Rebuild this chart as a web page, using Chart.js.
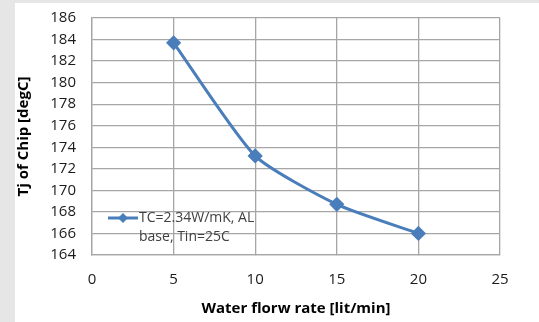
<!DOCTYPE html>
<html>
<head>
<meta charset="utf-8">
<script src="https://cdn.jsdelivr.net/npm/chart.js@4"></script>
<style>
  html, body { margin: 0; padding: 0; background: #e6e6e6; }
  #wrap { position: absolute; left: 15px; top: 3px; width: 524px; height: 319px; background: #fff; }
</style>
</head>
<body>
<div id="wrap"><canvas id="grafico" width="524" height="319"></canvas></div>
<script>
// dados
const vazao = [5, 10, 15, 20];
const tj = [183.7, 173.2, 168.7, 166.0];
const rotuloSerie = ['TC=2.34W/mK, AL', 'base, Tin=25C'];
const ticksX = [0, 5, 10, 15, 20, 25];
const ticksY = [164, 166, 168, 170, 172, 174, 176, 178, 180, 182, 184, 186];

const azul = '#4a7ebb';
const cinza = '#a6a6a6';
const fonte = '"Open Sans", "Liberation Sans", sans-serif';

// legenda dentro da área do gráfico, como no Excel
const legendaInterna = {
    id: 'legendaInterna',
    afterDatasetsDraw(chart) {
        const ctx = chart.ctx;
        const a = chart.chartArea;
        const x0 = a.left + 16;
        const y0 = a.top + 200;
        ctx.save();
        ctx.strokeStyle = azul;
        ctx.lineWidth = 3;
        ctx.beginPath();
        ctx.moveTo(x0, y0);
        ctx.lineTo(x0 + 30, y0);
        ctx.stroke();
        ctx.fillStyle = azul;
        ctx.beginPath();
        ctx.moveTo(x0 + 15, y0 - 5);
        ctx.lineTo(x0 + 20, y0);
        ctx.lineTo(x0 + 15, y0 + 5);
        ctx.lineTo(x0 + 10, y0);
        ctx.closePath();
        ctx.fill();
        ctx.fillStyle = '#404040';
        ctx.font = '14px ' + fonte;
        ctx.textBaseline = 'middle';
        ctx.fillText(rotuloSerie[0], x0 + 31, y0);
        ctx.fillText(rotuloSerie[1], x0 + 31, y0 + 19);
        ctx.restore();
    }
};

new Chart(document.getElementById('grafico'), {
    type: 'line',
    data: {
        datasets: [{
            label: rotuloSerie.join(' '),
            data: vazao.map((v, i) => ({ x: v, y: tj[i] })),
            borderColor: azul,
            backgroundColor: azul,
            borderWidth: 3,
            tension: 0.2,
            pointStyle: 'rectRot',
            pointRadius: 5.5,
            pointHoverRadius: 5.5
        }]
    },
    options: {
        responsive: false,
        animation: false,
        layout: { padding: { left: 0, right: 39, top: 15, bottom: 0 } },
        plugins: {
            legend: { display: false },
            tooltip: { enabled: false }
        },
        scales: {
            x: {
                type: 'linear',
                min: 0,
                max: 25,
                afterBuildTicks: s => { s.ticks = ticksX.map(v => ({ value: v })); },
                afterFit: s => { s.height = 67; s.paddingLeft = 0; s.paddingRight = 0; },
                grid: { color: cinza, tickLength: 0, lineWidth: 1.3 },
                border: { color: cinza, width: 1.3 },
                ticks: { color: '#1a1a1a', font: { family: fonte, size: 15 }, padding: 16, autoSkip: false, maxRotation: 0 },
                title: {
                    display: true,
                    text: 'Water florw rate [lit/min]',
                    color: '#000',
                    font: { family: fonte, size: 15, weight: 'bold' },
                    padding: { top: 2 }
                }
            },
            y: {
                min: 164,
                max: 186,
                afterBuildTicks: s => { s.ticks = ticksY.map(v => ({ value: v })); },
                afterFit: s => { s.width = 77; s.paddingTop = 0; s.paddingBottom = 0; },
                grid: { color: cinza, tickLength: 0, lineWidth: 1.3 },
                border: { color: cinza, width: 1.3 },
                ticks: { color: '#1a1a1a', font: { family: fonte, size: 15 }, padding: 16, autoSkip: false },
                title: {
                    display: true,
                    text: 'Tj of Chip [degC]',
                    color: '#000',
                    font: { family: fonte, size: 15, weight: 'bold' },
                    padding: 0
                }
            }
        }
    },
    plugins: [legendaInterna]
});
</script>
</body>
</html>
